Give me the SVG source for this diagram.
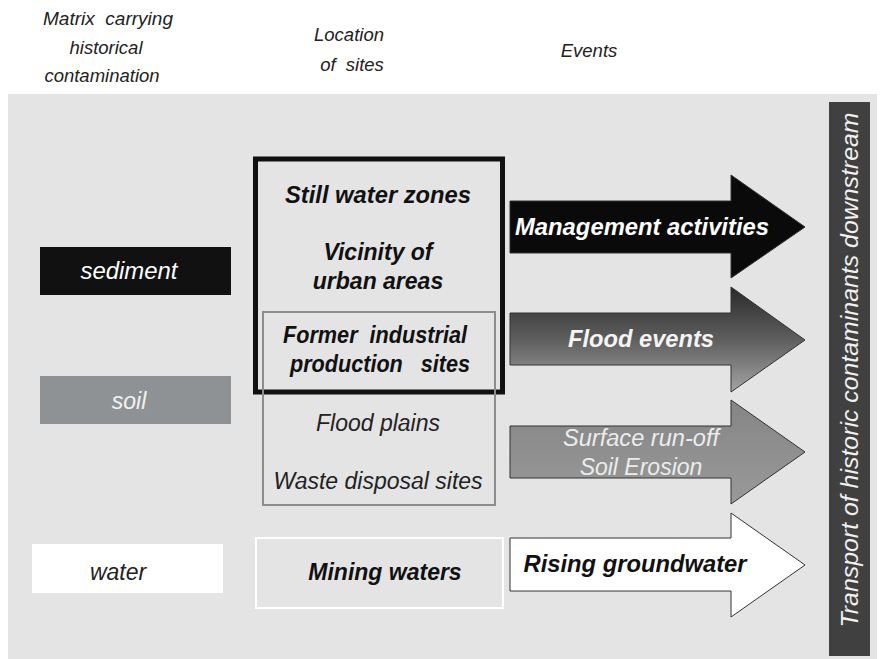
<svg xmlns="http://www.w3.org/2000/svg" width="885" height="659" viewBox="0 0 885 659">
<defs>
<linearGradient id="floodGrad" x1="0" y1="0" x2="0" y2="1">
<stop offset="0" stop-color="#2a2a2a"/>
<stop offset="0.5" stop-color="#5e5e5e"/>
<stop offset="1" stop-color="#a4a4a4"/>
</linearGradient>
<linearGradient id="surfGrad" x1="0" y1="0" x2="0" y2="1">
<stop offset="0" stop-color="#858585"/>
<stop offset="1" stop-color="#999999"/>
</linearGradient>
<style>
text{font-family:"Liberation Sans",Arial,sans-serif;font-style:italic;}
.hdr{font-size:18.5px;fill:#222;text-anchor:middle;}
.lbl{font-size:23px;text-anchor:middle;}
.b{font-weight:bold;}
.arrow{stroke:#333;stroke-width:1;}
</style>
</defs>
<rect x="0" y="0" width="885" height="659" fill="#ffffff"/>
<rect x="8" y="94" width="869" height="565" fill="#e4e4e4"/>

<g id="headers">
<text class="hdr" x="108" y="25" textLength="130" lengthAdjust="spacingAndGlyphs" xml:space="preserve">Matrix  carrying</text>
<text class="hdr" x="106" y="54">historical</text>
<text class="hdr" x="102" y="82">contamination</text>
<text class="hdr" x="349" y="41">Location</text>
<text class="hdr" x="352" y="71" xml:space="preserve">of  sites</text>
<text class="hdr" x="589" y="57">Events</text>
</g>

<g id="sediment">
<rect x="40" y="247" width="191" height="48" fill="#111111"/>
<text class="lbl" x="129" y="279" fill="#ffffff" textLength="97" lengthAdjust="spacingAndGlyphs">sediment</text>
</g>
<g id="soil">
<rect x="40" y="376" width="191" height="48" fill="#8f9294"/>
<text class="lbl" x="129" y="409" fill="#f2f2f2">soil</text>
</g>
<g id="water">
<rect x="32" y="544" width="191" height="49" fill="#ffffff"/>
<text class="lbl" x="118" y="580" fill="#222">water</text>
</g>

<g id="sites-black">
<rect x="255.5" y="159" width="247" height="233" fill="none" stroke="#111" stroke-width="5"/>
<text class="lbl b" x="378" y="203" fill="#111" textLength="186" lengthAdjust="spacingAndGlyphs">Still water zones</text>
<text class="lbl b" x="378" y="260" fill="#111">Vicinity of</text>
<text class="lbl b" x="378" y="289" fill="#111">urban areas</text>
</g>
<g id="sites-gray">
<rect x="263" y="312" width="232" height="193" fill="none" stroke="#8c8c8c" stroke-width="2"/>
<text class="lbl b" x="375" y="343" fill="#111" textLength="184" lengthAdjust="spacingAndGlyphs" xml:space="preserve">Former  industrial</text>
<text class="lbl b" x="380" y="372" fill="#111" textLength="180" lengthAdjust="spacingAndGlyphs" xml:space="preserve">production   sites</text>
<text class="lbl" x="378" y="431" fill="#222">Flood plains</text>
<text class="lbl" x="378" y="489" fill="#222">Waste disposal sites</text>
</g>
<g id="mining">
<rect x="256" y="538" width="247" height="70" fill="none" stroke="#ffffff" stroke-width="2"/>
<text class="lbl b" x="385" y="580" fill="#111">Mining waters</text>
</g>

<g id="connectors">
<polygon id="arrow-management" class="arrow" fill="#0a0a0a" points="510,201 731,201 731,175 805,227 731,278 731,253 510,253"/>
<polygon id="arrow-flood" class="arrow" fill="url(#floodGrad)" points="510,313 731,313 731,287 805,340 731,392 731,365 510,365"/>
<polygon id="arrow-surface" class="arrow" fill="url(#surfGrad)" points="510,426 731,426 731,400 805,452 731,504 731,478 510,478"/>
<polygon id="arrow-rising" class="arrow" fill="#ffffff" points="510,538 731,538 731,513 805,565 731,617 731,591 510,591"/>
</g>
<g id="event-labels">
<text class="lbl b" x="642" y="235" fill="#ffffff" textLength="254" lengthAdjust="spacingAndGlyphs">Management activities</text>
<text class="lbl b" x="641" y="347" fill="#f4f4f4" textLength="146" lengthAdjust="spacingAndGlyphs">Flood events</text>
<text class="lbl" x="641" y="446" fill="#ececec" textLength="156" lengthAdjust="spacingAndGlyphs">Surface run-off</text>
<text class="lbl" x="641" y="475" fill="#ececec">Soil Erosion</text>
<text class="lbl b" x="635" y="572" fill="#111" textLength="223" lengthAdjust="spacingAndGlyphs">Rising groundwater</text>
</g>

<g id="transport">
<rect x="829" y="102" width="41" height="554" fill="#404040"/>
<text x="0" y="0" transform="translate(858,370) rotate(-90)" font-size="23" fill="#f0f0f0" text-anchor="middle" textLength="515" lengthAdjust="spacingAndGlyphs">Transport of historic contaminants downstream</text>
</g>
</svg>
